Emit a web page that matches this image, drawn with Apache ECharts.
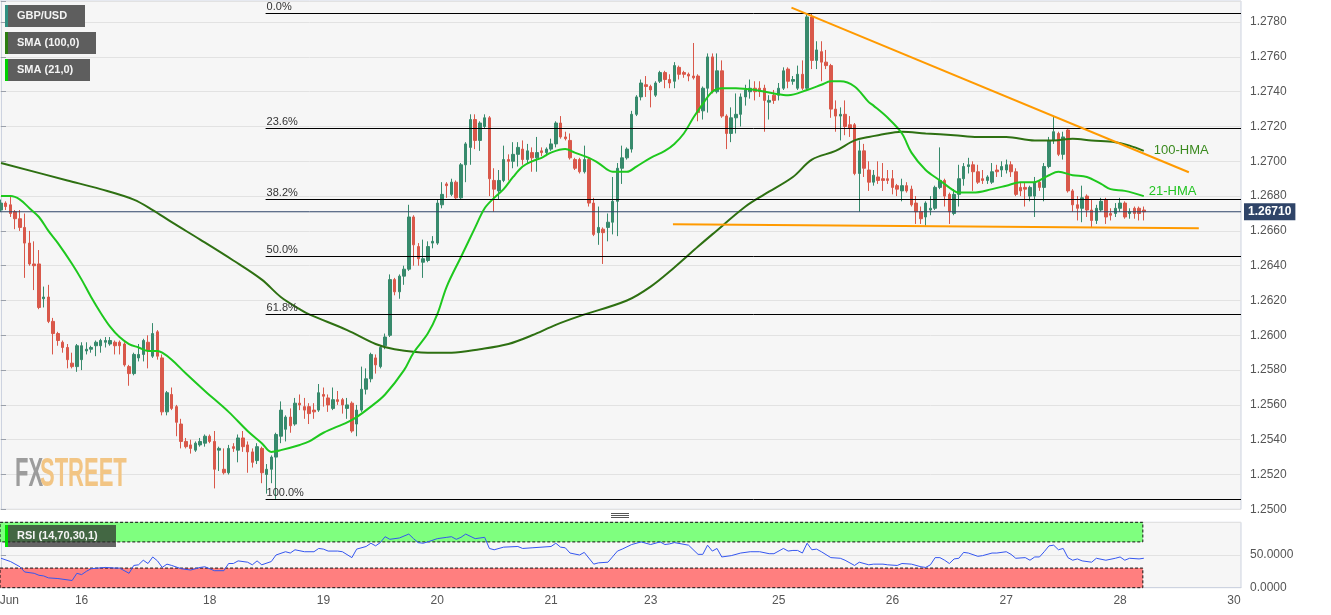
<!DOCTYPE html>
<html><head><meta charset="utf-8">
<script src="https://cdn.jsdelivr.net/npm/echarts@6/dist/echarts.min.js"></script>
<style>html,body{margin:0;padding:0;background:#fff;}#c{width:1331px;height:615px;}</style>
</head><body><div id="c"></div>
<script>
// ---------- DATA ----------
// hourly candles: [open, close, low, high]
const candles = [
[1.2672,1.2676,1.2671,1.2678],[1.2676,1.2674,1.2672,1.2677],[1.2675,1.2670,1.2668,1.2680],[1.2671,1.2667,1.2661,1.2672],
[1.2667,1.2662,1.2660,1.2672],[1.2662,1.2653,1.2633,1.2670],[1.2653,1.2641,1.2640,1.2660],[1.2641,1.2640,1.2626,1.2654],
[1.2641,1.2616,1.2615,1.2649],[1.2621,1.2622,1.2616,1.2628],[1.2622,1.2608,1.2607,1.2629],[1.2608,1.2601,1.2589,1.2610],
[1.2601,1.2597,1.2594,1.2602],[1.2596,1.2593,1.2590,1.2597],[1.2593,1.2586,1.2581,1.2595],[1.2584,1.2582,1.2581,1.2590],
[1.2582,1.2594,1.2579,1.2595],[1.2586,1.2594,1.2580,1.2596],[1.2591,1.2592,1.2589,1.2596],[1.2592,1.2593,1.2590,1.2594],
[1.2594,1.2596,1.2588,1.2597],[1.2594,1.2597,1.2590,1.2598],[1.2596,1.2597,1.2593,1.2599],[1.2595,1.2597,1.2594,1.2599],
[1.2596,1.2594,1.2589,1.2597],[1.2596,1.2594,1.2589,1.2597],[1.2595,1.2583,1.2582,1.2596],[1.2582,1.2578,1.2571,1.2583],
[1.2578,1.2589,1.2577,1.2590],[1.2587,1.2589,1.2585,1.2595],[1.2589,1.2597,1.2585,1.2598],[1.2596,1.2591,1.2581,1.2600],
[1.2588,1.2601,1.2587,1.2607],[1.2602,1.2588,1.2586,1.2603],[1.2587,1.2556,1.2554,1.2589],[1.2556,1.2567,1.2554,1.2568],
[1.2566,1.2558,1.2557,1.2570],[1.2559,1.2550,1.2542,1.2560],[1.2549,1.2539,1.2535,1.2552],[1.2539,1.2536,1.2535,1.2541],
[1.2537,1.2535,1.2532,1.2540],[1.2534,1.2538,1.2533,1.2539],[1.2537,1.2539,1.2536,1.2541],[1.2538,1.2542,1.2536,1.2543],
[1.2542,1.2539,1.2538,1.2543],[1.2539,1.2523,1.2512,1.2545],[1.2534,1.2535,1.2522,1.2536],[1.2523,1.2521,1.2520,1.2535],
[1.2521,1.2535,1.2520,1.2537],[1.2536,1.2535,1.2533,1.2538],[1.2534,1.2541,1.2527,1.2543],[1.2541,1.2536,1.2533,1.2545],
[1.2537,1.2533,1.2521,1.2539],[1.2533,1.2527,1.2524,1.2535],[1.2528,1.2536,1.2526,1.2538],[1.2535,1.2521,1.2515,1.2536],
[1.2520,1.2523,1.2509,1.2526],[1.2523,1.2530,1.2515,1.2531],[1.2530,1.2543,1.2506,1.2544],[1.2542,1.2557,1.2538,1.2562],
[1.2546,1.2553,1.2539,1.2554],[1.2553,1.2548,1.2544,1.2558],[1.2549,1.2561,1.2548,1.2564],[1.2561,1.2560,1.2557,1.2566],
[1.2559,1.2557,1.2552,1.2564],[1.2559,1.2555,1.2549,1.2561],[1.2557,1.2556,1.2552,1.2561],[1.2557,1.2567,1.2556,1.2572],
[1.2566,1.2565,1.2559,1.2570],[1.2564,1.2560,1.2556,1.2566],[1.2558,1.2563,1.2557,1.2570],[1.2563,1.2562,1.2560,1.2568],
[1.2563,1.2560,1.2555,1.2564],[1.2558,1.2560,1.2552,1.2564],[1.2561,1.2545,1.2544,1.2562],[1.2549,1.2557,1.2542,1.2560],
[1.2557,1.2569,1.2556,1.2582],[1.2569,1.2575,1.2566,1.2581],[1.2575,1.2589,1.2573,1.2590],[1.2587,1.2583,1.2578,1.2589],
[1.2582,1.2593,1.2581,1.2594],[1.2594,1.2599,1.2592,1.2601],[1.2600,1.2632,1.2599,1.2635],[1.2632,1.2625,1.2623,1.2633],
[1.2625,1.2634,1.2621,1.2635],[1.2634,1.2638,1.2629,1.2640],[1.2638,1.2668,1.2637,1.2675],[1.2668,1.2652,1.2640,1.2669],
[1.2651,1.2644,1.2640,1.2653],[1.2642,1.2644,1.2633,1.2655],[1.2643,1.2651,1.2642,1.2654],[1.2653,1.2654,1.2650,1.2657],
[1.2653,1.2676,1.2652,1.2678],[1.2675,1.2681,1.2673,1.2688],[1.2687,1.2686,1.2679,1.2688],[1.2681,1.2688,1.2680,1.2690],
[1.2688,1.2679,1.2678,1.2689],[1.2679,1.2698,1.2678,1.2699],[1.2698,1.2710,1.2688,1.2711],[1.2708,1.2724,1.2698,1.2727],
[1.2724,1.2712,1.2707,1.2727],[1.2712,1.2722,1.2706,1.2723],[1.2720,1.2725,1.2719,1.2727],[1.2725,1.2690,1.2680,1.2726],
[1.2689,1.2684,1.2671,1.2696],[1.2683,1.2689,1.2678,1.2695],[1.2689,1.2701,1.2688,1.2709],[1.2701,1.2700,1.2689,1.2704],
[1.2700,1.2704,1.2696,1.2711],[1.2704,1.2708,1.2697,1.2711],[1.2707,1.2701,1.2698,1.2712],[1.2701,1.2706,1.2699,1.2710],
[1.2705,1.2702,1.2694,1.2708],[1.2702,1.2705,1.2694,1.2714],[1.2706,1.2705,1.2703,1.2708],[1.2705,1.2707,1.2703,1.2708],
[1.2707,1.2710,1.2706,1.2713],[1.2710,1.2722,1.2708,1.2723],[1.2722,1.2714,1.2713,1.2726],[1.2714,1.2713,1.2712,1.2717],
[1.2712,1.2702,1.2701,1.2716],[1.2701,1.2696,1.2695,1.2702],[1.2701,1.2694,1.2693,1.2702],[1.2694,1.2701,1.2693,1.2709],
[1.2701,1.2676,1.2674,1.2702],[1.2676,1.2658,1.2657,1.2679],[1.2659,1.2662,1.2652,1.2674],[1.2661,1.2659,1.2641,1.2662],
[1.2662,1.2665,1.2654,1.2670],[1.2665,1.2677,1.2658,1.2691],[1.2677,1.2696,1.2657,1.2699],[1.2696,1.2702,1.2687,1.2709],
[1.2702,1.2707,1.2701,1.2708],[1.2707,1.2727,1.2705,1.2729],[1.2727,1.2737,1.2726,1.2738],[1.2737,1.2745,1.2735,1.2747],
[1.2744,1.2743,1.2737,1.2749],[1.2743,1.2741,1.2731,1.2744],[1.2738,1.2745,1.2737,1.2746],[1.2746,1.2751,1.2745,1.2752],
[1.2751,1.2747,1.2742,1.2752],[1.2747,1.2745,1.2742,1.2750],[1.2746,1.2755,1.2742,1.2757],[1.2754,1.2750,1.2747,1.2755],
[1.2751,1.2750,1.2748,1.2752],[1.2750,1.2749,1.2746,1.2751],[1.2749,1.2748,1.2747,1.2768],[1.2749,1.2728,1.2723,1.2750],
[1.2729,1.2742,1.2724,1.2743],[1.2742,1.2760,1.2728,1.2762],[1.2760,1.2740,1.2739,1.2762],[1.2740,1.2752,1.2739,1.2762],
[1.2752,1.2726,1.2725,1.2758],[1.2726,1.2716,1.2707,1.2727],[1.2716,1.2725,1.2711,1.2731],[1.2725,1.2727,1.2716,1.2739],
[1.2727,1.2737,1.2720,1.2739],[1.2737,1.2741,1.2732,1.2744],[1.2740,1.2742,1.2736,1.2747],[1.2742,1.2740,1.2735,1.2746],
[1.2742,1.2740,1.2737,1.2746],[1.2742,1.2735,1.2717,1.2744],[1.2734,1.2735,1.2724,1.2738],[1.2738,1.2735,1.2733,1.2741],
[1.2738,1.2742,1.2735,1.2745],[1.2742,1.2752,1.2741,1.2754],[1.2753,1.2746,1.2742,1.2754],[1.2746,1.2747,1.2744,1.2749],
[1.2742,1.2750,1.2741,1.2755],[1.2750,1.2742,1.2741,1.2758],[1.2742,1.2783,1.2741,1.2785],[1.2783,1.2758,1.2753,1.2785],
[1.2758,1.2764,1.2753,1.2769],[1.2763,1.2757,1.2746,1.2769],[1.2757,1.2755,1.2753,1.2764],[1.2755,1.2730,1.2725,1.2756],
[1.2730,1.2726,1.2717,1.2735],[1.2726,1.2727,1.2712,1.2731],[1.2727,1.2720,1.2715,1.2735],[1.2721,1.2719,1.2714,1.2726],
[1.2721,1.2693,1.2692,1.2722],[1.2693,1.2706,1.2671,1.2712],[1.2706,1.2696,1.2691,1.2710],[1.2695,1.2688,1.2683,1.2700],
[1.2688,1.2692,1.2686,1.2695],[1.2691,1.2689,1.2687,1.2700],[1.2690,1.2689,1.2683,1.2699],[1.2690,1.2689,1.2687,1.2695],
[1.2690,1.2685,1.2681,1.2695],[1.2686,1.2684,1.2680,1.2687],[1.2683,1.2686,1.2677,1.2690],[1.2686,1.2683,1.2682,1.2688],
[1.2684,1.2675,1.2674,1.2686],[1.2676,1.2671,1.2664,1.2680],[1.2671,1.2667,1.2664,1.2674],[1.2668,1.2676,1.2663,1.2677],
[1.2672,1.2673,1.2669,1.2680],[1.2673,1.2685,1.2672,1.2686],[1.2685,1.2689,1.2684,1.2708],[1.2689,1.2680,1.2674,1.2690],
[1.2681,1.2671,1.2664,1.2682],[1.2670,1.2681,1.2669,1.2684],[1.2681,1.2690,1.2674,1.2698],[1.2690,1.2697,1.2686,1.2699],
[1.2697,1.2698,1.2693,1.2702],[1.2698,1.2694,1.2683,1.2700],[1.2694,1.2688,1.2687,1.2698],[1.2690,1.2689,1.2687,1.2695],
[1.2689,1.2691,1.2687,1.2692],[1.2688,1.2694,1.2687,1.2699],[1.2695,1.2694,1.2691,1.2698],[1.2695,1.2697,1.2691,1.2700],
[1.2695,1.2698,1.2693,1.2701],[1.2698,1.2694,1.2691,1.2700],[1.2694,1.2681,1.2680,1.2696],[1.2685,1.2683,1.2680,1.2688],
[1.2685,1.2684,1.2674,1.2688],[1.2680,1.2685,1.2677,1.2686],[1.2680,1.2688,1.2668,1.2691],[1.2688,1.2685,1.2683,1.2689],
[1.2685,1.2697,1.2677,1.2699],[1.2697,1.2712,1.2696,1.2714],[1.2712,1.2717,1.2710,1.2726],[1.2716,1.2704,1.2703,1.2717],
[1.2704,1.2714,1.2701,1.2717],[1.2718,1.2683,1.2682,1.2719],[1.2683,1.2675,1.2671,1.2684],[1.2675,1.2673,1.2666,1.2680],
[1.2673,1.2679,1.2665,1.2686],[1.2680,1.2672,1.2668,1.2681],[1.2672,1.2666,1.2662,1.2678],[1.2666,1.2673,1.2664,1.2675],
[1.2672,1.2677,1.2671,1.2679],[1.2678,1.2668,1.2664,1.2679],[1.2670,1.2669,1.2666,1.2673],[1.2670,1.2673,1.2668,1.2676],
[1.2673,1.2676,1.2671,1.2679],[1.2676,1.2668,1.2667,1.2677],[1.2670,1.2671,1.2667,1.2673],[1.2673,1.2670,1.2667,1.2674],
[1.2673,1.2670,1.2666,1.2674],[1.2672,1.2671,1.2666,1.2674]
];
// moving averages: [bar index, price]
const sma100 = [[0,1.2699],[14,1.2689],[21,1.2684],[28,1.2678],[32,1.2672],[36,1.2665],[42,1.2655],[49,1.2643],[55,1.2632],[59,1.2622],[63,1.2615],[65,1.2612],[73,1.2603],[79,1.2595],[83,1.2592],[90,1.2590],[95,1.2590],[101,1.2592],[107,1.2595],[112,1.2600],[117,1.2606],[122,1.2611],[132,1.2620],[137,1.2628],[142,1.2639],[147,1.2651],[150,1.2658],[157,1.2674],[161,1.2681],[167,1.2691],[171,1.2701],[176,1.2706],[180,1.2712],[183,1.2714],[185,1.2715],[190,1.2717],[195,1.2716],[201,1.2715],[206,1.2714],[212,1.2714],[218,1.2712],[222,1.2712],[226,1.2713],[230,1.2712],[235,1.2711],[238,1.2709],[241,1.2706]];
const sma21 = [[0,1.2680],[2,1.2680],[4,1.2678],[6,1.2673],[8,1.2668],[10,1.2660],[12,1.2653],[15,1.2641],[17,1.2632],[19,1.2622],[21,1.2613],[23,1.2605],[25,1.2599],[27,1.2595],[29,1.2593],[31,1.2591],[33,1.2591],[34,1.2590],[36,1.2586],[39,1.2578],[43,1.2568],[48,1.2556],[52,1.2545],[55,1.2538],[57,1.2533],[59,1.2534],[63,1.2537],[65,1.2539],[68,1.2544],[73,1.2550],[75,1.2553],[78,1.2559],[81,1.2566],[85,1.2580],[87,1.2590],[90,1.2601],[92,1.2612],[94,1.2628],[97,1.2645],[100,1.2662],[102,1.2673],[104,1.2679],[106,1.2684],[108,1.2691],[110,1.2697],[112,1.2700],[114,1.2702],[116,1.2705],[119,1.2707],[121,1.2705],[124,1.2702],[126,1.2699],[129,1.2694],[132,1.2694],[134,1.2697],[137,1.2702],[140,1.2706],[142,1.2710],[144,1.2716],[146,1.2725],[148,1.2733],[150,1.2740],[152,1.2742],[155,1.2742],[159,1.2741],[163,1.2739],[166,1.2738],[170,1.2741],[173,1.2744],[175,1.2746],[177,1.2746],[180,1.2743],[183,1.2734],[184,1.2732],[187,1.2725],[190,1.2716],[192,1.2705],[195,1.2695],[198,1.2689],[201,1.2683],[202,1.2682],[205,1.2682],[209,1.2684],[212,1.2686],[215,1.2688],[218,1.2688],[219,1.2689],[221,1.2692],[223,1.2694],[226,1.2692],[229,1.2691],[232,1.2687],[234,1.2684],[237,1.2683],[241,1.2680]];
// RSI(14): [bar index, value]
const rsi = [[0,45],[2,40],[4,32],[5,24],[7,22],[8,19],[9,18],[10,15],[12,14],[15,11],[16,22],[17,20],[18,25],[19,29],[22,31],[24,30],[25,30],[27,22],[28,34],[29,35],[30,42],[31,37],[32,47],[33,41],[34,31],[35,36],[36,34],[38,29],[40,27],[42,31],[43,32],[45,26],[47,26],[48,37],[49,37],[50,41],[52,39],[53,35],[54,41],[55,35],[57,40],[58,50],[60,55],[61,53],[62,58],[64,55],[66,55],[67,60],[68,59],[69,56],[71,56],[72,55],[74,46],[75,59],[77,63],[78,68],[79,64],[80,69],[81,78],[82,74],[84,76],[86,82],[87,75],[88,69],[89,68],[90,70],[92,75],[94,77],[95,78],[96,74],[97,77],[98,82],[100,75],[102,77],[103,60],[104,58],[106,62],[109,63],[110,60],[112,61],[116,63],[117,68],[118,62],[119,61],[120,53],[122,50],[123,54],[125,36],[126,38],[128,39],[130,56],[131,59],[133,66],[135,70],[137,66],[139,70],[140,66],[141,67],[142,69],[145,65],[147,51],[148,51],[149,65],[150,56],[151,60],[152,47],[154,49],[156,53],[158,55],[160,55],[162,52],[163,52],[165,60],[166,56],[167,57],[168,57],[169,53],[170,68],[171,58],[172,59],[173,55],[175,46],[177,45],[178,42],[180,34],[181,39],[183,35],[184,36],[186,36],[187,35],[189,34],[190,37],[192,36],[194,32],[195,31],[196,35],[197,46],[198,46],[199,42],[200,37],[201,44],[202,45],[203,54],[204,53],[206,48],[207,49],[209,53],[210,53],[212,55],[213,51],[214,45],[216,46],[217,42],[218,47],[219,47],[220,55],[221,64],[222,65],[223,58],[224,60],[225,46],[226,42],[227,44],[228,41],[230,39],[231,45],[233,42],[235,45],[236,47],[237,42],[238,45],[240,44],[241,45]];
// RSI zones: [fromBar, toBar, low, high]
const rsiZones = [[-0.2, 240.8, 70, 100], [-0.2, 240.8, 0, 30]];
const rsiZoneColors = ['#7fff7f', '#ff7f7f'];
const fibLevels = [1.2785, 1.27190, 1.26782, 1.26454, 1.26121, 1.25058];
const fibNames = ['0.0%', '23.6%', '38.2%', '50.0%', '61.8%', '100.0%'];
const fibStartBar = 55.8;
const resistanceLine = [[166.7, 1.27883], [250.5, 1.26937]];
const supportLine = [[141.7, 1.26638], [252.6, 1.26615]];
const lastPrice = 1.2671;
const lastPriceText = '1.26710';
const tickIndex = [0, 17, 44, 68, 92, 116, 137, 164, 188, 212, 236, 260];
const tickText = ['     Jun', '16', '18', '19', '20', '21', '23', '25', '26', '27', '28', '30'];
const totalSlots = 262;

// ---------- CHART ----------
const categories = Array.from({length: totalSlots}, (_, i) => String(i));
const labelMap = {};
tickIndex.forEach((t, k) => { labelMap[t] = tickText[k]; });
const showTick = (idx) => labelMap[idx] !== undefined;
const FONT = '"Liberation Sans", Arial, sans-serif';
const GL = -1.37, GR = 90;
const BULL = '#378a6c', BEAR = '#d9584a';

const fibData = fibLevels.map((v, k) => [
  {coord: [fibStartBar, v], label: {formatter: fibNames[k]}},
  {coord: [totalSlots - 0.5, v]}
]);

const chart = echarts.init(document.getElementById('c'), null, {renderer: 'canvas'});
chart.setOption({
  animation: false,
  backgroundColor: '#ffffff',
  textStyle: {fontFamily: FONT},
  grid: [
    {left: GL, right: GR, top: 1, height: 508.3, show: true, backgroundColor: '#f6f6f6', borderColor: '#cdd3e0', borderWidth: 1,
      containLabel: false, outerBoundsMode: 'none'},
    {left: GL, right: GR, top: 522.3, height: 65.4, show: true, backgroundColor: '#f6f6f6', borderColor: '#cdd3e0', borderWidth: 1,
      containLabel: false, outerBoundsMode: 'none'}
  ],
  xAxis: [
    {type: 'category', gridIndex: 0, data: categories, show: false},
    {type: 'category', gridIndex: 1, data: categories,
      axisLine: {lineStyle: {color: '#cdd3e0'}},
      axisTick: {interval: showTick, alignWithLabel: true, length: 4, lineStyle: {color: '#9aa0aa'}},
      axisLabel: {interval: showTick, formatter: (v, idx) => labelMap[idx] || '', color: '#555', fontSize: 12, margin: 7, fontFamily: FONT},
      splitLine: {show: false}},
    {type: 'value', gridIndex: 0, min: -0.5, max: totalSlots - 0.5, show: false},
    {type: 'value', gridIndex: 1, min: -0.5, max: totalSlots - 0.5, show: false}
  ],
  yAxis: [
    {type: 'value', gridIndex: 0, position: 'right', min: 1.25, max: 1.279213, interval: 0.002,
      axisLine: {show: true, lineStyle: {color: '#cdd3e0'}},
      axisTick: {show: true, length: 5, lineStyle: {color: '#9aa0aa'}},
      axisLabel: {color: '#555', fontSize: 12, margin: 9, fontFamily: FONT,
        formatter: (v) => { const k = Math.round(v / 0.002); return Math.abs(k * 0.002 - v) < 1e-7 ? v.toFixed(4) : ''; }},
      splitLine: {show: true, lineStyle: {color: '#e2e2e2', width: 1}}},
    {type: 'value', gridIndex: 1, position: 'right', min: 0, max: 100, interval: 50,
      axisLine: {show: true, lineStyle: {color: '#cdd3e0'}},
      axisTick: {show: true, length: 5, lineStyle: {color: '#9aa0aa'}},
      axisLabel: {color: '#555', fontSize: 12, margin: 9, fontFamily: FONT,
        formatter: (v) => v === 50 ? '50.0000' : (v === 0 ? '0.0000' : '')},
      splitLine: {show: true, lineStyle: {color: '#e2e2e2'}}}
  ],
  series: [
    {type: 'custom', name: 'rsiZones', xAxisIndex: 3, yAxisIndex: 1, data: rsiZones, z: 1, silent: true,
      renderItem: (params, api) => {
        const p0 = api.coord([api.value(0), api.value(3)]);
        const p1 = api.coord([api.value(1), api.value(2)]);
        return {type: 'rect', shape: {x: p0[0], y: p0[1], width: p1[0] - p0[0], height: p1[1] - p0[1]},
          style: {fill: rsiZoneColors[params.dataIndex], stroke: '#111', lineWidth: 1, lineDash: [3, 2]}};
      }},
    {type: 'candlestick', xAxisIndex: 0, yAxisIndex: 0, data: candles, barWidth: 3, z: 2,
      itemStyle: {color: BULL, color0: BEAR, borderColor: BULL, borderColor0: BEAR, borderWidth: 1}},
    {type: 'line', name: 'last', xAxisIndex: 2, yAxisIndex: 0, data: [[-0.5, lastPrice], [totalSlots - 0.5, lastPrice]],
      symbol: 'none', z: 3, lineStyle: {color: '#2f4468', width: 1},
      endLabel: {show: true, formatter: lastPriceText, backgroundColor: '#2f4468', color: '#fff', fontWeight: 'bold',
        fontSize: 12, padding: [3, 4, 2, 4], distance: 3, fontFamily: FONT}},
    {type: 'line', name: 'SMA100', xAxisIndex: 2, yAxisIndex: 0, data: sma100, smooth: 0.35, symbol: 'none', z: 4,
      lineStyle: {color: '#2e7012', width: 2},
      endLabel: {show: true, formatter: '100-HMA', color: '#3a8a1e', fontSize: 13, distance: 10, fontFamily: FONT}},
    {type: 'line', name: 'SMA21', xAxisIndex: 2, yAxisIndex: 0, data: sma21, smooth: 0.35, symbol: 'none', z: 4,
      lineStyle: {color: '#1ec81e', width: 2},
      endLabel: {show: true, formatter: '21-HMA', color: '#22c422', fontSize: 13, distance: 5, offset: [0, -5], fontFamily: FONT}},
    {type: 'line', name: 'resistance', xAxisIndex: 2, yAxisIndex: 0, data: resistanceLine, symbol: 'none', z: 5,
      lineStyle: {color: '#ff9a00', width: 2}},
    {type: 'line', name: 'support', xAxisIndex: 2, yAxisIndex: 0, data: supportLine, symbol: 'none', z: 5,
      lineStyle: {color: '#ff9a00', width: 2},
      markLine: {silent: true, symbol: ['none', 'none'], animation: false,
        lineStyle: {color: '#000', width: 1, type: 'solid'},
        label: {show: true, position: 'insideStartTop', color: '#333', fontSize: 11, distance: 1, fontFamily: FONT},
        data: fibData}},
    {type: 'line', name: 'RSI', xAxisIndex: 3, yAxisIndex: 1, data: rsi, symbol: 'none', z: 4,
      lineStyle: {color: '#3456f0', width: 1}}
  ],
  graphic: [
    {type: 'text', x: 15, y: 455, scaleX: 0.55, z: 1, silent: true,
      style: {text: 'FX', fill: '#9c9c9c', font: 'bold 40px "Liberation Sans Narrow", "Liberation Sans", sans-serif'}},
    {type: 'text', x: 40, y: 455, scaleX: 0.55, z: 1, silent: true,
      style: {text: 'STREET', fill: '#f2c584', font: 'bold 40px "Liberation Sans Narrow", "Liberation Sans", sans-serif'}},

    {type: 'rect', z: 100, shape: {x: 5, y: 5, width: 80, height: 22}, style: {fill: '#5e5e5e'}},
    {type: 'rect', z: 101, shape: {x: 5, y: 5, width: 3, height: 22}, style: {fill: '#2f8f80'}},
    {type: 'text', z: 102, x: 17, y: 16, style: {text: 'GBP/USD', fill: '#f4f4f4', font: 'bold 11px ' + FONT, verticalAlign: 'middle'}},

    {type: 'rect', z: 100, shape: {x: 5, y: 32, width: 91, height: 22}, style: {fill: '#5e5e5e'}},
    {type: 'rect', z: 101, shape: {x: 5, y: 32, width: 3, height: 22}, style: {fill: '#2b7d10'}},
    {type: 'text', z: 102, x: 17, y: 43, style: {text: 'SMA (100,0)', fill: '#f4f4f4', font: 'bold 11px ' + FONT, verticalAlign: 'middle'}},

    {type: 'rect', z: 100, shape: {x: 5, y: 59, width: 85, height: 22}, style: {fill: '#5e5e5e'}},
    {type: 'rect', z: 101, shape: {x: 5, y: 59, width: 3, height: 22}, style: {fill: '#00d000'}},
    {type: 'text', z: 102, x: 17, y: 70, style: {text: 'SMA (21,0)', fill: '#f4f4f4', font: 'bold 11px ' + FONT, verticalAlign: 'middle'}},

    {type: 'rect', z: 100, shape: {x: 5, y: 525, width: 111, height: 22}, style: {fill: 'rgba(45,45,45,0.72)'}},
    {type: 'rect', z: 101, shape: {x: 5, y: 525, width: 3, height: 22}, style: {fill: '#00e000'}},
    {type: 'text', z: 102, x: 17, y: 536, style: {text: 'RSI (14,70,30,1)', fill: '#f4f4f4', font: 'bold 11px ' + FONT, verticalAlign: 'middle'}},

    {type: 'line', z: 100, shape: {x1: 611, y1: 513.5, x2: 629, y2: 513.5}, style: {stroke: '#555', lineWidth: 1}},
    {type: 'line', z: 100, shape: {x1: 611, y1: 515.5, x2: 629, y2: 515.5}, style: {stroke: '#555', lineWidth: 1}},
    {type: 'line', z: 100, shape: {x1: 611, y1: 517.5, x2: 629, y2: 517.5}, style: {stroke: '#555', lineWidth: 1}}
  ]
});
</script>
</body></html>
